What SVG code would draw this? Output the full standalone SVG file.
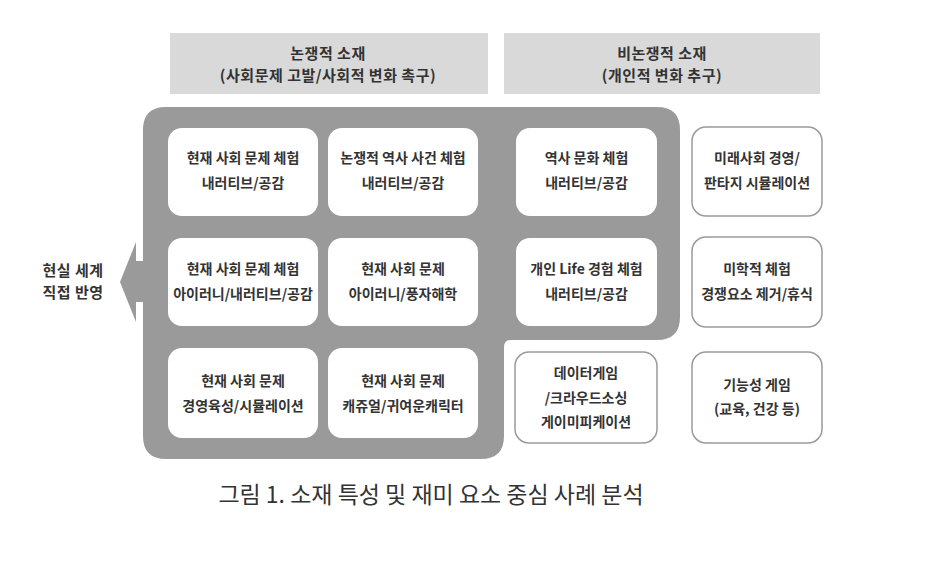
<svg xmlns="http://www.w3.org/2000/svg" width="934" height="580" viewBox="0 0 934 580">
<style>
.hdr{fill:#d9d9d9}
.t{font-family:"Noto Sans CJK KR","Noto Sans",sans-serif;font-weight:bold;font-size:14px;fill:#333;text-anchor:middle}
.th{font-family:"Noto Sans CJK KR","Noto Sans",sans-serif;font-weight:bold;font-size:15px;letter-spacing:0.5px;fill:#333;text-anchor:middle}
.w{fill:#fff}
.o{fill:#fff;stroke:#9a9a9a;stroke-width:1.5}
.cap{font-family:"Noto Sans CJK KR","Noto Sans",sans-serif;font-size:23px;fill:#333;text-anchor:middle}
</style>
<rect width="934" height="580" fill="#fff"/>
<g id="header-left"><rect class="hdr" x="170" y="33" width="318" height="61"/>
<text class="th" x="328" y="59">논쟁적 소재</text><text class="th" x="328" y="81">(사회문제 고발/사회적 변화 촉구)</text></g>
<g id="header-right"><rect class="hdr" x="504" y="33" width="316" height="61"/>
<text class="th" x="662" y="59">비논쟁적 소재</text><text class="th" x="662" y="81">(개인적 변화 추구)</text></g>
<g id="connectors">
<path id="grey-region" fill="#9a9a9a" d="M 166 107 H 657 Q 680 107 680 130 V 317 Q 680 340 657 340 H 511 Q 504 340 504 347 V 436 Q 504 459 481 459 H 166 Q 143 459 143 436 V 302 H 136 V 322 L 120 282 L 136 242 V 261 H 143 V 130 Q 143 107 166 107 Z"/>
</g>
<g id="label-left"><text class="th" x="73" y="276">현실 세계</text><text class="th" x="73" y="298">직접 반영</text></g>
<g id="n1"><rect class="w" x="168" y="128" width="150" height="88" rx="14"/><text class="t" x="243" y="163">현재 사회 문제 체험</text><text class="t" x="243" y="188">내러티브/공감</text></g>
<g id="n2"><rect class="w" x="328" y="128" width="150" height="88" rx="14"/><text class="t" x="403" y="163">논쟁적 역사 사건 체험</text><text class="t" x="403" y="188">내러티브/공감</text></g>
<g id="n3"><rect class="w" x="516" y="128" width="141" height="88" rx="14"/><text class="t" x="586.5" y="163">역사 문화 체험</text><text class="t" x="586.5" y="188">내러티브/공감</text></g>
<g id="n4"><rect class="o" x="692" y="127" width="130" height="89" rx="14"/><text class="t" x="757" y="163">미래사회 경영/</text><text class="t" x="757" y="188">판타지 시뮬레이션</text></g>
<g id="n5"><rect class="w" x="168" y="238" width="150" height="88" rx="14"/><text class="t" x="243" y="274">현재 사회 문제 체험</text><text class="t" x="243" y="299">아이러니/내러티브/공감</text></g>
<g id="n6"><rect class="w" x="328" y="238" width="150" height="88" rx="14"/><text class="t" x="403" y="274">현재 사회 문제</text><text class="t" x="403" y="299">아이러니/풍자해학</text></g>
<g id="n7"><rect class="w" x="516" y="238" width="141" height="88" rx="14"/><text class="t" x="586.5" y="274">개인 Life 경험 체험</text><text class="t" x="586.5" y="299">내러티브/공감</text></g>
<g id="n8"><rect class="o" x="692" y="237" width="130" height="90" rx="14"/><text class="t" x="757" y="274">미학적 체험</text><text class="t" x="757" y="299">경쟁요소 제거/휴식</text></g>
<g id="n9"><rect class="w" x="168" y="348" width="150" height="90" rx="14"/><text class="t" x="243" y="386">현재 사회 문제</text><text class="t" x="243" y="411">경영육성/시뮬레이션</text></g>
<g id="n10"><rect class="w" x="328" y="348" width="150" height="90" rx="14"/><text class="t" x="403" y="386">현재 사회 문제</text><text class="t" x="403" y="411">캐쥬얼/귀여운캐릭터</text></g>
<g id="n11"><rect class="o" x="515" y="352" width="142" height="91" rx="14"/><text class="t" x="586" y="378">데이터게임</text><text class="t" x="586" y="403">/크라우드소싱</text><text class="t" x="586" y="427">게이미피케이션</text></g>
<g id="n12"><rect class="o" x="692" y="352" width="130" height="91" rx="14"/><text class="t" x="757" y="390">기능성 게임</text><text class="t" x="757" y="414">(교육, 건강 등)</text></g>
<text class="cap" x="431" y="503">그림 1. 소재 특성 및 재미 요소 중심 사례 분석</text>
</svg>
